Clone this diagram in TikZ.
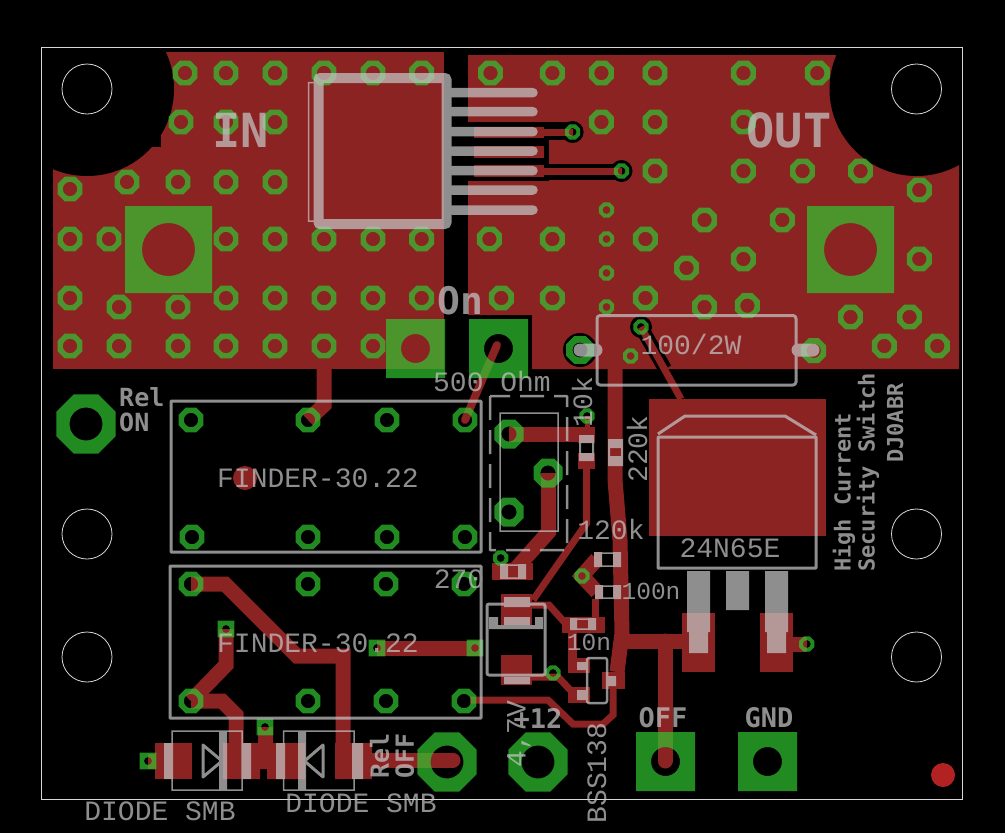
\documentclass[tikz,border=0pt]{standalone}
\usepackage{fontspec}
\setmonofont{Liberation Mono}
\newfontfamily\silkbold{DejaVu Sans Mono}
\definecolor{copper}{RGB}{139,35,35}
\definecolor{padgreen}{RGB}{48,198,48}
\definecolor{silk}{RGB}{196,196,196}
\definecolor{outline}{RGB}{215,215,215}
\definecolor{marker}{RGB}{178,34,34}
\tikzset{
  trace/.style={draw=copper,line width=15pt,line join=miter},
  thin trace/.style={draw=copper,line width=7pt,line join=miter},
  padfill/.style={fill=padgreen,fill opacity=.7},
  silkline/.style={draw=silk,line width=3pt,line join=round},
  label/.style={text=silk,inner sep=0pt,font=\ttfamily\fontsize{28}{28}\selectfont},
  small label/.style={text=silk,inner sep=0pt,font=\ttfamily\fontsize{24.5}{24.5}\selectfont},
  boldlabel/.style={text=silk,inner sep=0pt,font=\silkbold\bfseries\fontsize{#1}{#1}\selectfont},
  boldlabel/.default=26,
  pics/via/.style 2 args={code={
    \path[padfill,even odd rule] (22.5:#1pt) -- (67.5:#1pt) -- (112.5:#1pt) -- (157.5:#1pt)
      -- (202.5:#1pt) -- (247.5:#1pt) -- (292.5:#1pt) -- (337.5:#1pt) -- cycle (0,0) circle (#2pt);}},
  pics/squarepad/.style 2 args={code={
    \path[padfill,even odd rule] (-#1pt,-#1pt) rectangle (#1pt,#1pt) (0,0) circle (#2pt);}},
}
\begin{document}
\begin{tikzpicture}[x=1pt,y=-1pt]
  \useasboundingbox[fill=black] (0,0) rectangle (1005,833);

  % Copper pours
  \fill[copper] (53,52) rectangle (444,369);
  \fill[copper] (468,55) -- (959,55) -- (959,369) -- (532,369) -- (532,315) -- (468,315) -- cycle;
  \fill[black] (87,89) circle (87pt) (916.5,89) circle (87pt);
  \fill[black] (152,135) rectangle (161,147);

  % Cut-outs round the switch pins
  \fill[black] (468,121.5) rectangle (549,181);
  \fill[black] (540,121.5) rectangle (572,140);
  \fill[black] (540,163.5) rectangle (621,180);
  \fill[black] (572.6,132) circle (11pt) (621.5,171) circle (11pt);
  \fill[black] (580,350) circle (17pt) (641,327) circle (11pt);
  \draw[black,line width=14pt] (641,327) -- (665,369);
  \fill[copper] (474,127) rectangle (544,138);
  \fill[copper] (474,146) rectangle (544,158);
  \fill[copper] (474,165) rectangle (544,177);
  \draw[copper,line width=7pt] (540,132) -- (572.6,132);
  \draw[copper,line width=7pt] (540,171) -- (621.5,171);

  % Traces of the relays
  \draw[trace] (324,365) -- (324,405) -- (308,420);
  \draw[copper,line width=8pt,line cap=round] (497,345) -- (465,420);
  \draw[trace] (191,584) -- (225,584) -- (297,656) -- (343,656) -- (343,779);
  \draw[trace] (226,629) -- (226,665) -- (191,701);
  \draw[trace] (191,701) -- (222,701) -- (236,715) -- (236,760);
  \draw[trace] (377,648) -- (480,648);
  \draw[trace] (265,727) -- (265,750);
  \draw[trace,line cap=round] (372,760) -- (453,760);
  \draw[trace] (148,761) -- (160,761);
  \fill[copper] (155,743) rectangle (192,779);
  \fill[copper] (223,743) rectangle (258,779);
  \fill[copper] (258,743) -- (305,743) -- (305,779) -- (267,779) -- (267,769) -- (260,769) -- (260,779) -- (258,779) -- cycle;
  \fill[copper] (335,743) rectangle (372,779);
  \fill[copper] (245,478) circle (12pt);

  % Traces of the driver
  \draw[trace] (509,434) -- (590,434);
  \fill[copper] (578,427) rectangle (595,443);
  \fill[copper] (578,453) rectangle (595,469);
  \draw[copper,line width=5pt] (587,416) -- (587,430);
  \draw[thin trace] (586.7,469) -- (586.7,523) -- (533,600);
  \draw[trace] (548.5,473) -- (548.5,532) -- (513,572);
  \fill[copper] (492,563) rectangle (533,580);
  \draw[trace] (615,369) -- (615,480) -- (620,540) -- (622,633) -- (617,672);
  \fill[copper] (602,672) rectangle (625,689);
  \draw[trace] (615,641) -- (690,641);
  \draw[trace,line cap=round] (665,641) -- (665,761);
  \fill[copper] (682,613) rectangle (715,672);
  \fill[copper] (760,613) rectangle (793,672);
  \draw[trace] (790,644) -- (807,644);
  \draw[copper,line width=7pt] (641,327) -- (681,399);
  \fill[copper] (649,399) rectangle (826,536);
  \draw[trace] (597,559) -- (582,576) -- (597,592);
  \fill[copper] (594,552) rectangle (602,567);
  \fill[copper] (595,585) rectangle (603,599);
  \draw[thin trace] (595,599) -- (595,620);
  \fill[copper] (562,617) rectangle (605,633);
  \draw[thin trace] (532,605) -- (549,605) -- (566,624) -- (572,624);
  \draw[copper,line width=9pt] (572.5,630) -- (572.5,660);
  \fill[copper] (568,658) rectangle (590,673);
  \fill[copper] (568,687) rectangle (590,703);
  \draw[thin trace] (575,695) -- (558,677) -- (530,677);
  \fill[copper] (501,594) rectangle (532,625);
  \fill[copper] (501,655) rectangle (532,685);
  \draw[thin trace] (613,689) -- (613,715) -- (603,724) -- (573,724) -- (548,700) -- (470,700);

  % Vias in the pours
  \foreach \x/\y in {185/73,226/73,275/73,324/73,373/73,421.7/73,181/122,226/122,275/122,
      70/189,127/182,178/182,226/182,275/182,70/239,109/239,226/239,275/239,324/239,373/239,421.7/239,
      70/298,119/307,178/307,226/298,275/298,324/298,373/298,421.7/298,
      70/346,119/346,178/346,226/346,275/346,324/346,373/346,
      490.5/73,552.4/73,601.4/73,655/73,743.4/73,817.3/73,601.4/122,655/122,743.4/122,
      655/171,743.4/171,802.5/171,860.5/171,919.3/190,704.5/220,782.3/220,489.4/239,552.4/239,645.4/239,
      743.4/259,919.3/259,686.5/268,501.3/298,552.4/298,645.4/298,704.5/307,747.4/305.7,
      850.5/317,909.5/317,884.3/346,937.3/346,813.7/350.7}
    \pic at (\x,\y) {via={13.5}{7.2}};
  \pic at (580,350) {via={15}{7.5}};
  \foreach \x/\y in {606.5/210,606.5/239,606.5/273,606.5/307,630.6/356,641/327,572.6/132,621.5/171,
      587/416,500.7/558,582/576,553/673,806.7/644}
    \pic at (\x,\y) {via={8.2}{4}};

  % Relay pins
  \foreach \x/\y in {191/420,308/420,387/420,465/420,192/537,308/537,387/537,465/537,
      191/584,308/584,386/584,464/584,191/701,308/701,386/701,464/701}
    \pic at (\x,\y) {via={13.5}{7.2}};
  \foreach \x/\y in {509/434,548/473,509/512}
    \pic at (\x,\y) {via={15.7}{7.6}};
  \foreach \x/\y in {86/424,447/762,538/762}
    \pic at (\x,\y) {via={32}{16.5}};

  % Square pads
  \pic at (168.5,249.5) {squarepad={43.5}{26.5}};
  \pic at (850.5,249.5) {squarepad={43.5}{26.5}};
  \pic at (415.5,348.5) {squarepad={29.5}{14.5}};
  \pic at (498.5,348.5) {squarepad={29.5}{14.5}};
  \pic at (665.5,761.5) {squarepad={29.5}{14.5}};
  \pic at (767.5,761.5) {squarepad={29.5}{14.5}};
  \foreach \x/\y in {226/629,377/648,475/648,265/727,148/761}
    \pic at (\x,\y) {squarepad={8.3}{4}};

  % Mounting holes
  \foreach \x/\y in {87/89,916.5/89,87/534,916.5/534,87/657,916.5/657}
    \draw[outline,line width=.8pt] (\x,\y) circle (25pt);
  \draw[outline,line width=.8pt] (41.5,47.5) rectangle (962.5,799.5);
  \fill[marker] (943,775) circle (12pt);

  % Silk screen
  \begin{scope}[transparency group,opacity=.73]
    \draw[draw=silk,line width=10pt,rounded corners=2pt] (318.5,78) rectangle (446.5,224);
    \draw[draw=silk,line width=1.5pt] (308.5,82.5) rectangle (318,221);
    \foreach \y in {92.7,111.7,131.7,151,170.7,190,210}
      \draw[draw=silk,line width=9.5pt,line cap=round] (452,\y) -- (533,\y);

    \draw[silkline] (171,401) rectangle (481,552);
    \draw[silkline] (170,566) rectangle (481,718);

    \draw[silkline,rounded corners=3pt] (597,315.5) rectangle (796,385);
    \draw[draw=silk,line width=13pt,line cap=round] (580,350) -- (596,350);
    \draw[draw=silk,line width=13pt,line cap=round] (798,350) -- (813,350);

    \draw[silkline,line width=2.5pt,dash pattern=on 24pt off 10pt] (490,396) rectangle (567,550);
    \draw[draw=silk,line width=1.5pt] (500,413) rectangle (558,531);

    \fill[silk] (579,435) rectangle (594,443);
    \fill[silk] (579,453) rectangle (594,461);
    \draw[draw=silk,line width=2pt] (580,443) -- (580,453) (593,443) -- (593,453);
    \fill[silk] (608,439) rectangle (623,448);
    \fill[silk] (608,456) rectangle (623,466);
    \draw[draw=silk,line width=2pt] (609,448) -- (609,456) (622,448) -- (622,456);
    \foreach \x in {594,613}
      \fill[silk] (\x,552) rectangle (\x+8,567);
    \fill[silk] (595,585) rectangle (603,599);
    \fill[silk] (613,585) rectangle (621,599);
    \draw[draw=silk,line width=1.5pt] (603,586) -- (613,586) (603,598) -- (613,598);
    \draw[draw=silk,line width=1.5pt] (602,553) -- (613,553) (602,566) -- (613,566);
    \fill[silk] (500,564) rectangle (508,579);
    \fill[silk] (518,564) rectangle (526,579);
    \draw[draw=silk,line width=1.5pt] (508,565) -- (518,565) (508,578) -- (518,578);
    \fill[silk] (570,618) rectangle (577,630);
    \fill[silk] (588,618) rectangle (596,630);
    \draw[draw=silk,line width=1.5pt] (577,619) -- (588,619) (577,629) -- (588,629);

    \draw[silkline,rounded corners=2pt] (487,604) rectangle (545,675);
    \fill[silk] (504,597) rectangle (530,607);
    \fill[silk] (504,617) rectangle (530,625);
    \fill[silk] (504,677) rectangle (530,684);
    \fill[silk] (489,617) rectangle (498,629);
    \fill[silk] (535,617) rectangle (543,629);
    \fill[silk] (498,625) rectangle (535,629);

    \draw[silkline,line width=2.5pt,rounded corners=2pt] (587,658) rectangle (607,703);
    \fill[silk] (577,662) rectangle (587,670);
    \fill[silk] (577,690) rectangle (587,700);
    \fill[silk] (607,676) rectangle (616,686);

    \draw[silkline] (658,437) rectangle (816,568);
    \draw[silkline] (658,434) -- (685,416) -- (785,416) -- (816,435);
    \fill[silk] (687,571) rectangle (710,632);
    \fill[silk] (726,571) rectangle (749,610);
    \fill[silk] (765,571) rectangle (788,632);
    \fill[silk] (689,632) rectangle (708,653);
    \fill[silk] (767,632) rectangle (786,653);

    \draw[draw=silk,line width=1.5pt] (172,731) rectangle (242,790);
    \fill[silk] (219,731) rectangle (227,790);
    \draw[silkline] (203,745) -- (203,777) -- (222,761) -- cycle;
    \fill[silk] (164,743) rectangle (173,779);
    \fill[silk] (243,743) rectangle (251,779);
    \draw[draw=silk,line width=1.5pt] (283.5,731) rectangle (354,790);
    \fill[silk] (298,731) rectangle (306,790);
    \draw[silkline] (323,745) -- (323,777) -- (304.5,761) -- cycle;
    \fill[silk] (276,743) rectangle (285,779);
    \fill[silk] (352,743) rectangle (363,779);

    % Labels
    \node[boldlabel=47] (in) at (241,130) {IN};
    \node[boldlabel=47] (out) at (789,130) {OUT};
    \node[boldlabel=38] (on) at (460,301) {On};
    \node[boldlabel=25,align=left,anchor=west] (relon) at (119,410) {Rel\\ON};
    \node[boldlabel=27] (plus) at (538,718) {+12};
    \node[boldlabel=27] (off) at (663,718) {OFF};
    \node[boldlabel=27] (gnd) at (769,718) {GND};
    \node[boldlabel=25,rotate=90,align=left] (reloff) at (392,756) {Rel\\OFF};
    \node[boldlabel=22,rotate=90,anchor=west] (high) at (844,572) {High Current};
    \node[boldlabel=22,rotate=90,anchor=west] (security) at (868,572) {Security Switch};
    \node[boldlabel=22,rotate=90,anchor=west] (call) at (895,463) {DJ0ABR};
    \node[label] (relaya) at (318,478) {FINDER-30.22};
    \node[label] (relayb) at (318,643) {FINDER-30.22};
    \node[label] (ohm) at (492,381) {500 Ohm};
    \node[label] (rten) at (691,344) {100/2W};
    \node[label,rotate=90] (rk) at (582,402) {10k};
    \node[label,rotate=90] (rtwo) at (637,449) {220k};
    \node[label] (rone) at (611,529) {120k};
    \node[small label] (cap) at (651,591) {100n};
    \node[small label] (capten) at (589,642) {10n};
    \node[label] (rled) at (459,579) {270};
    \node[label] (fet) at (730,548) {24N65E};
    \node[label,rotate=90] (bss) at (597,773) {BSS138};
    \node[label,rotate=90] (zener) at (519,734) {4,7V};
    \node[label] (diodea) at (160,811) {DIODE SMB};
    \node[label] (diodeb) at (361,803) {DIODE SMB};
  \end{scope}
\end{tikzpicture}
\end{document}
